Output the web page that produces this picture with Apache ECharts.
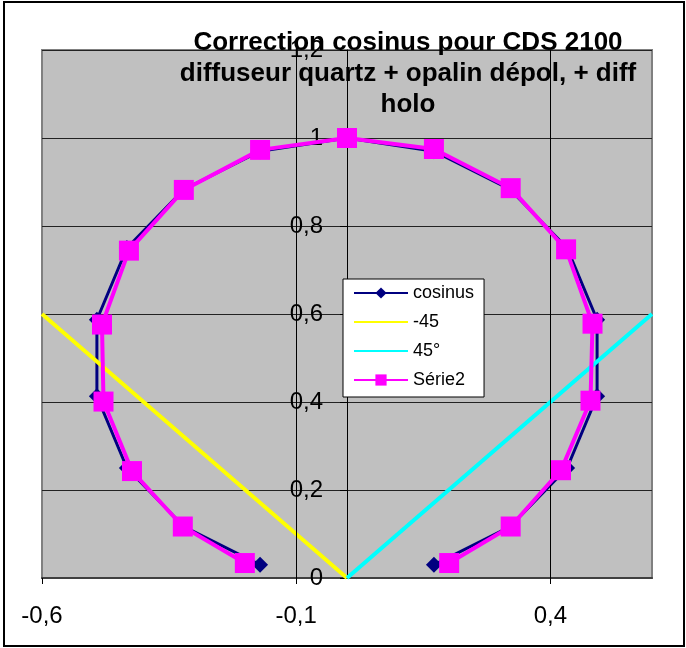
<!DOCTYPE html>
<html>
<head>
<meta charset="utf-8">
<script src="https://cdn.jsdelivr.net/npm/echarts@6/dist/echarts.min.js"></script>
<style>
html,body{margin:0;padding:0;background:#fff;}
#chart{width:686px;height:648px;}
</style>
</head>
<body>
<div id="chart"></div>
<script>
// ---- data ----
const titleText = 'Correction cosinus pour CDS 2100\ndiffuseur quartz + opalin dépol, + diff\nholo';
const seriesNames = ['cosinus', '-45', '45°', 'Série2'];
const xTicks = [-0.6, -0.1, 0.4];
const xGridLines = [-0.1, 0.4];

const cosX = [-0.171, -0.321, -0.433, -0.492, -0.492, -0.433, -0.321, -0.171, 0, 0.171, 0.321, 0.433, 0.492, 0.492, 0.433, 0.321, 0.171];
const cosY = [0.030, 0.117, 0.250, 0.413, 0.587, 0.750, 0.883, 0.970, 1.0, 0.970, 0.883, 0.750, 0.587, 0.413, 0.250, 0.117, 0.030];

const minus45X = [-0.6, 0];
const minus45Y = [0.6, 0];

const plus45X = [0, 0.6];
const plus45Y = [0, 0.6];

const s2X = [-0.201, -0.323, -0.423, -0.479, -0.482, -0.429, -0.321, -0.171, 0, 0.171, 0.322, 0.431, 0.483, 0.479, 0.421, 0.322, 0.201];
const s2Y = [0.034, 0.117, 0.243, 0.401, 0.576, 0.744, 0.882, 0.973, 1.0, 0.975, 0.886, 0.747, 0.578, 0.403, 0.245, 0.117, 0.034];

// ---- build ----
const pairs = (xs, ys) => xs.map((x, i) => [x, ys[i]]);
const fmt = v => String(Math.round(v * 1000) / 1000).replace('.', ',');
const FONT = "'Liberation Sans', Arial, sans-serif";

const chart = echarts.init(document.getElementById('chart'), null, {renderer: 'canvas'});
chart.setOption({
  animation: false,
  backgroundColor: '#ffffff',
  textStyle: {fontFamily: FONT},
  title: {
    text: titleText,
    left: 408,
    top: 27,
    padding: 0,
    textAlign: 'center',
    textStyle: {fontFamily: FONT, fontSize: 26, fontWeight: 'bold', color: '#000', lineHeight: 31}
  },
  graphic: [{
    type: 'rect',
    shape: {x: 4, y: 2, width: 680, height: 644},
    style: {fill: 'none', stroke: '#000', lineWidth: 2},
    silent: true, z: 100
  }],
  legend: {
    data: [
      {name: seriesNames[0]},
      {name: seriesNames[1], itemStyle: {opacity: 0}},
      {name: seriesNames[2], itemStyle: {opacity: 0}},
      {name: seriesNames[3]}
    ],
    orient: 'vertical',
    left: 343,
    top: 279,
    padding: [5, 10, 8, 10],
    itemWidth: 54,
    itemHeight: 14,
    itemGap: 11,
    backgroundColor: '#ffffff',
    borderColor: '#000',
    borderWidth: 1,
    borderRadius: 0,
    textStyle: {fontFamily: FONT, fontSize: 18, color: '#000'}
  },
  grid: {
    left: 42, right: 34, top: 50, bottom: 70,
    outerBoundsMode: 'none',
    containLabel: false,
    show: true,
    backgroundColor: '#C0C0C0',
    borderColor: '#808080',
    borderWidth: 2
  },
  xAxis: {
    type: 'value',
    min: -0.6, max: 0.6,
    axisLine: {show: true, onZero: false, lineStyle: {color: '#404040', width: 2}},
    axisTick: {show: true, inside: false, length: 6, customValues: xTicks, lineStyle: {color: '#000', width: 1}},
    axisLabel: {customValues: xTicks, formatter: fmt, margin: 26, fontSize: 24, color: '#000', fontFamily: FONT},
    splitLine: {show: false}
  },
  yAxis: {
    type: 'value',
    min: 0, max: 1.2, interval: 0.2,
    axisLine: {show: true, onZero: true, lineStyle: {color: '#000', width: 1}},
    axisTick: {show: true, inside: false, length: 7, lineStyle: {color: '#000', width: 1}},
    axisLabel: {formatter: fmt, margin: 24, fontSize: 24, color: '#000', fontFamily: FONT},
    splitLine: {show: true, lineStyle: {color: '#222', width: 1}}
  },
  series: [
    {
      name: 'grid-x',
      type: 'line',
      data: [],
      z: 1,
      silent: true,
      markLine: {
        silent: true,
        symbol: 'none',
        label: {show: false},
        lineStyle: {color: '#000', width: 1, type: 'solid'},
        data: xGridLines.map(v => ({xAxis: v}))
      }
    },
    {
      name: seriesNames[0],
      type: 'line',
      data: pairs(cosX, cosY),
      symbol: 'diamond',
      symbolSize: 16,
      showSymbol: true,
      z: 3,
      lineStyle: {color: '#000080', width: 3},
      itemStyle: {color: '#000080'}
    },
    {
      name: seriesNames[1],
      type: 'line',
      data: pairs(minus45X, minus45Y),
      symbol: 'none',
      z: 4,
      lineStyle: {color: '#FFFF00', width: 4},
      itemStyle: {color: '#FFFF00'}
    },
    {
      name: seriesNames[2],
      type: 'line',
      data: pairs(plus45X, plus45Y),
      symbol: 'none',
      z: 4,
      lineStyle: {color: '#00FFFF', width: 4},
      itemStyle: {color: '#00FFFF'}
    },
    {
      name: seriesNames[3],
      type: 'line',
      data: pairs(s2X, s2Y),
      symbol: 'rect',
      symbolSize: 20,
      showSymbol: true,
      z: 5,
      lineStyle: {color: '#FF00FF', width: 4},
      itemStyle: {color: '#FF00FF'}
    }
  ]
});

// Put the y axis where x = 0, using the x axis scale
const zeroPx = chart.convertToPixel({xAxisIndex: 0}, 0);
const minPx = chart.convertToPixel({xAxisIndex: 0}, -0.6);
chart.setOption({yAxis: {offset: -(zeroPx - minPx)}});
</script>
</body>
</html>
